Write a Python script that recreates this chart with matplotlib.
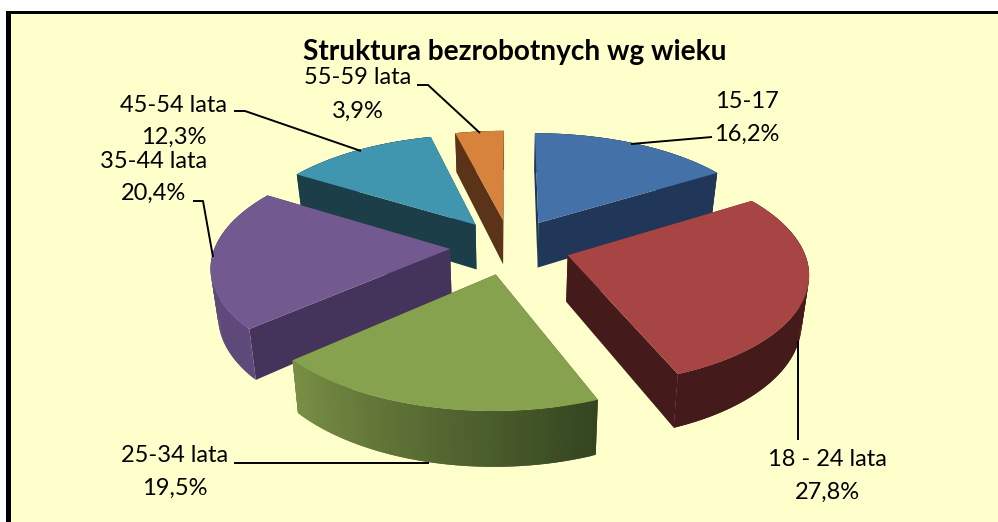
import numpy as np
import matplotlib
matplotlib.use("Agg")
import matplotlib.pyplot as plt
from matplotlib.colors import to_rgb

plt.rcParams['font.family'] = ['Lato', 'DejaVu Sans']

title = "Struktura bezrobotnych wg wieku"
groups = ["15-17", "18 - 24 lata", "25-34 lata", "35-44 lata", "45-54 lata", "55-59 lata"]
shares = [16.2, 27.8, 19.5, 20.4, 12.3, 3.9]
share_labels = ["16,2%", "27,8%", "19,5%", "20,4%", "12,3%", "3,9%"]

top_colors = ["#4472A8", "#A74545", "#87A24E", "#725990", "#4096AE", "#D8833B"]
face_colors = ["#20375A", "#451A1A", "#3A4A20", "#44335A", "#1C3E49", "#5A3319"]
rim_from = ["#20375A", "#451A1A", "#344520", "#604A7B", "#1C3E49", "#5A3319"]
rim_to = ["#20375A", "#451A1A", "#7A8F45", "#5C4577", "#1C3E49", "#5A3319"]
draw_order = [5, 4, 0, 3, 1, 2]

label_xy = [(747, 101, 747, 134), (827, 459, 827, 492), (175, 456, 175, 488),
            (154, 162, 154, 193), (174, 105, 174, 137), (358, 78, 358, 111)]
leaders = [[(631, 144), (712, 137)],
           [(798, 341), (798, 440)],
           [(234, 463), (429, 463)],
           [(193, 201), (203, 201), (213, 257)],
           [(234, 111), (245, 111), (361, 151)],
           [(417, 85), (428, 85), (480, 133)]]

cx, cy = 510, 246.5
radius, explode, squash, depth, persp = 235, 60, 0.462, 46, 0.0006
start_angle = 0


def project(x, y, z=0):
    # y grows towards the viewer, z is the drop below the top face
    s = 1 / (1 - persp * y)
    shrink = 1 - 0.025 * z / depth
    return cx + x * s * shrink, cy + squash * y * s + z * s


fig = plt.figure(figsize=(9.98, 5.22), dpi=100, facecolor="white")
ax = fig.add_axes([0, 0, 1, 1])
ax.set_xlim(0, 998)
ax.set_ylim(522, 0)
ax.axis("off")

ax.add_patch(plt.Rectangle((6, 11), 992, 511, facecolor="#FFFFCC", linewidth=0))
ax.add_patch(plt.Rectangle((6, 11), 992, 3, facecolor="black", linewidth=0))
ax.add_patch(plt.Rectangle((6, 11), 5, 511, facecolor="black", linewidth=0))

edges = start_angle + np.cumsum([0] + shares) / np.sum(shares) * 360
for i in draw_order:
    a0, a1 = np.radians(edges[i]), np.radians(edges[i + 1])
    mid = (a0 + a1) / 2
    ox, oy = explode * np.sin(mid), -explode * np.cos(mid)
    t = np.linspace(a0, a1, 90)
    rx = ox + radius * np.sin(t)
    ry = oy - radius * np.cos(t)

    # cut faces
    for k in (0, -1):
        top_a = project(ox, oy)
        top_b = project(rx[k], ry[k])
        low_b = project(rx[k], ry[k], depth)
        low_a = project(ox, oy, depth)
        ax.fill([top_a[0], top_b[0], low_b[0], low_a[0]], [top_a[1], top_b[1], low_b[1], low_a[1]],
                facecolor=face_colors[i], linewidth=0)

    # outer wall, shaded along the rim; each strip runs under the next to hide seams
    c0, c1 = np.array(to_rgb(rim_from[i])), np.array(to_rgb(rim_to[i]))
    for j in range(len(t) - 1):
        n = min(j + 2, len(t) - 1)
        p0 = project(rx[j], ry[j])
        p1 = project(rx[n], ry[n])
        p2 = project(rx[n], ry[n], depth)
        p3 = project(rx[j], ry[j], depth)
        col = c0 + (c1 - c0) * j / (len(t) - 2)
        ax.fill([p0[0], p1[0], p2[0], p3[0]], [p0[1], p1[1], p2[1], p3[1]], facecolor=col, linewidth=0)

    # top face
    sx, sy = project(np.r_[ox, rx], np.r_[oy, ry])
    ax.fill(sx, sy, facecolor=top_colors[i], linewidth=0)

for pts in leaders:
    xs, ys = zip(*pts)
    ax.plot(xs, ys, color="black", linewidth=1.4, solid_capstyle="butt")

for name, share, (x1, y1, x2, y2) in zip(groups, share_labels, label_xy):
    ax.text(x1, y1, name, ha="center", va="center", fontsize=17, color="black")
    ax.text(x2, y2, share, ha="center", va="center", fontsize=17, color="black")

ax.text(515, 52, title, ha="center", va="center", fontsize=20.2, fontweight="bold", color="black")

fig.savefig("out.png", dpi=100)
